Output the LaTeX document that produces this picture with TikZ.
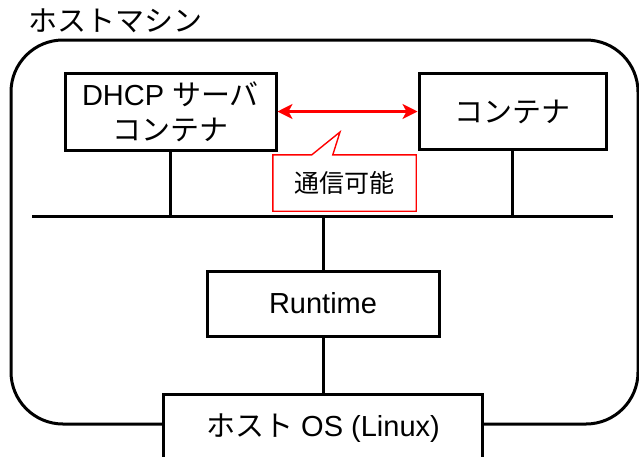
\documentclass[tikz,border=0pt]{standalone}
\usepackage{fontspec}
\setmainfont{Liberation Sans}
\newfontfamily\jp{Noto Sans CJK JP}
\usepackage{tikz}
\usetikzlibrary{positioning, arrows.meta, calc}
\definecolor{note-red}{RGB}{255,0,0}

\begin{document}
\begin{tikzpicture}[x=1pt, y=-1pt, node distance=140pt,
	box/.style={draw, line width=3pt, fill=white, inner sep=0pt, align=center, font=\fontsize{29}{35}\selectfont},
	link/.style={line width=3pt}]
							\useasboundingbox (0,0) rectangle (639,456);
							\clip (0,0) rectangle (639,456);
							\node[anchor=west, inner sep=0pt, font=\fontsize{29}{35}\selectfont\jp] (title) at (28,21) {ホストマシン};
							\node[draw, line width=3pt, rounded corners=52pt, minimum width=627pt, minimum height=384pt] (machine) at (324.5,232) {};
							\node[box, minimum width=211pt, minimum height=77pt] (dhcp) at (170.5,111.5) {DHCP {\jp サーバ}\\{\jp コンテナ}};
							\node[box, minimum width=187pt, minimum height=76pt, right =of dhcp] (container) {\jp コンテナ};
							\node[box, minimum width=232pt, minimum height=65pt] (runtime) at (323,303.5) {Runtime};
							\node[box, minimum width=319pt, minimum height=68pt, below =55pt of runtime] (host) {{\jp ホスト} OS (Linux)};
							\coordinate (bus west) at (32,216);
							\coordinate (bus east) at (613,216);
							\draw[link] (bus west) -- (bus east);
							\draw[link]
							(dhcp) -- (dhcp |- bus west)
							(container) -- (container |- bus west)
							(runtime) -- (runtime |- bus west)
							(runtime) -- (host);
							% communication
							\draw[note-red, line width=2.2pt, {Stealth[length=15pt, width=15pt, inset=4pt]}-{Stealth[length=15pt, width=15pt, inset=4pt]}] (dhcp) -- (container);
							\node[minimum width=143pt, minimum height=56pt, font=\fontsize{25}{30}\selectfont\jp] (note) at (344.5,183) {通信可能};
							\coordinate (tip) at (340,132);
							\draw[note-red, line width=1.4pt] (note.north west) -- ($(note.north west)+(39,0)$) -- (tip) -- ($(note.north west)+(60,0)$) -- (note.north east) -- (note.south east) -- (note.south west) -- cycle;
						\end{tikzpicture}
\end{document}
